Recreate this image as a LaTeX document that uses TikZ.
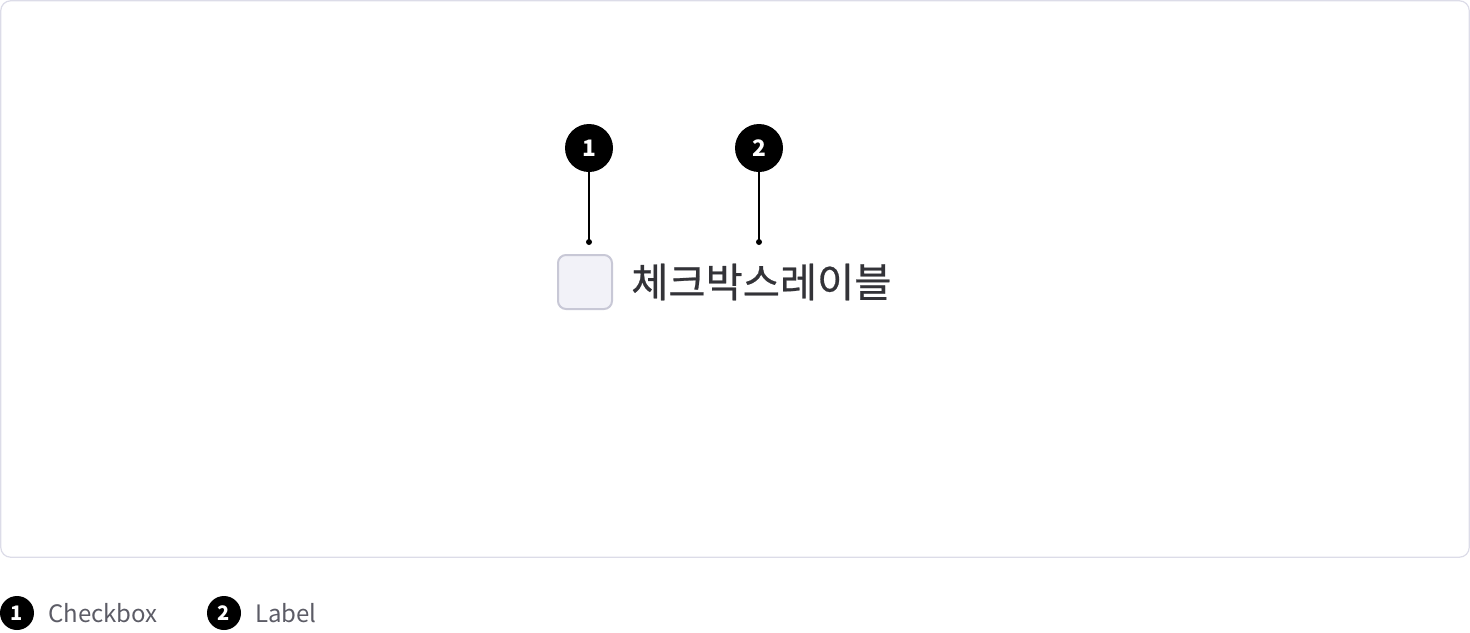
\documentclass[tikz,border=0pt]{standalone}
\usepackage{fontspec}
\setmainfont{Noto Sans CJK KR}
\newfontfamily\krfont{Noto Sans CJK KR}
\newfontfamily\krmed[FakeBold=0.6]{Noto Sans CJK KR}
\definecolor{frameclr}{HTML}{DCDCE8}
\definecolor{boxfill}{HTML}{F2F2F8}
\definecolor{boxline}{HTML}{C8C8D6}
\definecolor{labelclr}{HTML}{333338}
\definecolor{legendclr}{HTML}{5C5C66}
\begin{document}
\begin{tikzpicture}[x=0.75pt,y=-0.75pt,
  badge/.style={circle,fill=black,text=white,inner sep=0pt,minimum size=#1*0.75pt},
  bignum/.style={font=\krfont\bfseries\fontsize{17}{17}\selectfont},
  smallnum/.style={font=\krfont\bfseries\fontsize{15}{15}\selectfont},
  leader/.style={draw=black,line width=1.2pt},
  enddot/.style={circle,fill=black,inner sep=0pt,minimum size=6*0.75pt},
  legendtext/.style={anchor=west,inner sep=0pt,text=legendclr,font=\krfont\fontsize{18}{20}\selectfont}]
\useasboundingbox (0,0) rectangle (1470,632);
\draw[frameclr,line width=0.9pt,rounded corners=7.5pt] (0.75,0.75) rectangle (1469.25,557.25);
% checkbox
\node[draw=boxline,fill=boxfill,line width=1.5pt,rounded corners=6pt,minimum size=54*0.75pt,inner sep=0pt] (cb) at (585,282) {};
% label
\node[anchor=west,inner sep=0pt,text=labelclr,font=\krmed\fontsize{30.3}{33}\selectfont] (lbl) at (631,282) {체크박스레이블};
% badges
\node[badge=48,bignum] (b1) at (589,148) {1};
\node[badge=48,bignum] (b2) at (759,148) {2};
\node[enddot] (d1) at (589,242) {};
\node[enddot] (d2) at (759,242) {};
\draw[leader] (b1.south) -- (d1.center);
\draw[leader] (b2.south) -- (d2.center);
% legend
\node[badge=34,smallnum] (l1) at (17,613) {1};
\node[legendtext] (t1) at (48,613) {Checkbox};
\node[badge=34,smallnum] (l2) at (224,613) {2};
\node[legendtext] (t2) at (255,613) {Label};
\end{tikzpicture}
\end{document}
